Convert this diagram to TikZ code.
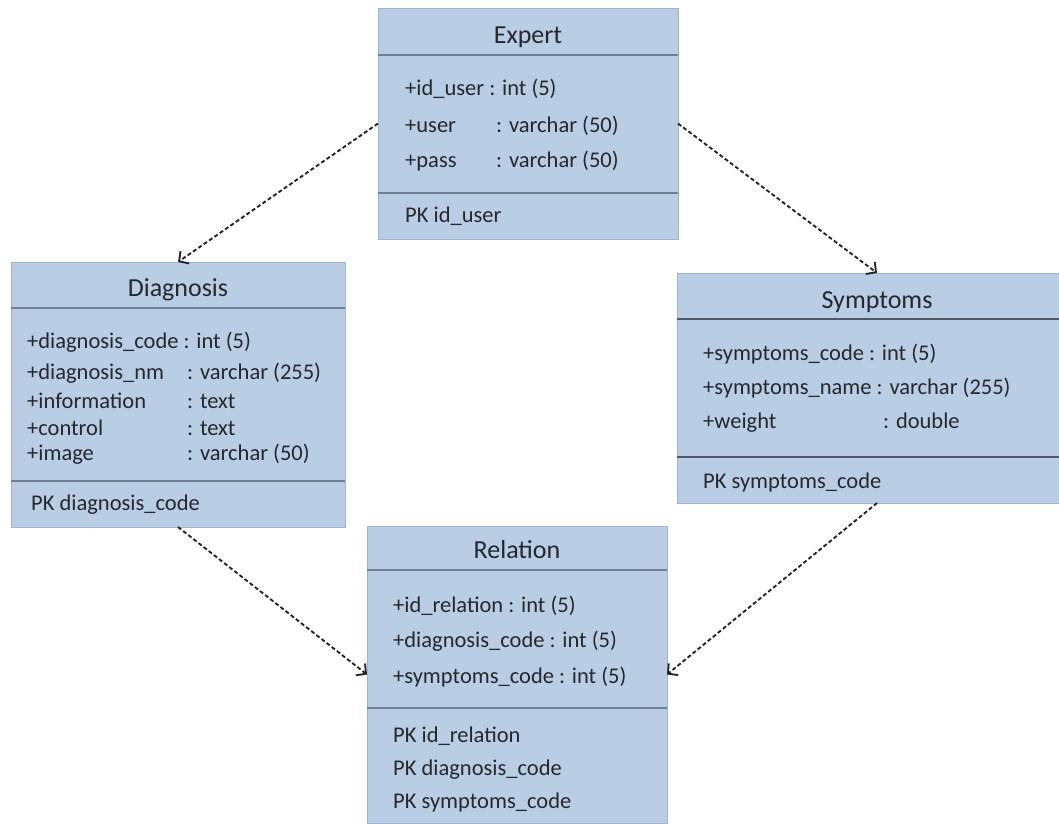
\documentclass[tikz,border=0pt]{standalone}
\usepackage{fontspec}
\setmainfont{Carlito}
\usetikzlibrary{arrows.meta}

\definecolor{classfill}{HTML}{B9CDE5}
\definecolor{classedge}{HTML}{9FB4CE}
\definecolor{sepline}{HTML}{72818F}
\definecolor{sepdark}{HTML}{4E5964}
\definecolor{txt}{HTML}{25282D}

\begin{document}
\begin{tikzpicture}[x=1pt,y=-1pt,>={Straight Barb[length=7pt,width=15pt]},
    classbox/.style={draw=classedge,line width=0.8pt,fill=classfill,inner sep=0pt,outer sep=0pt},
    title/.style={anchor=base,inner sep=0pt,text=txt,font=\fontsize{26}{30}\selectfont},
    attr/.style={anchor=base west,inner sep=0pt,text=txt,font=\fontsize{22.5}{27}\selectfont},
    divider/.style={draw=sepline,line width=1.3pt},
    divdark/.style={draw=sepdark,line width=1.8pt},
    rel/.style={->,draw=black!85,line width=1.9pt,dash pattern=on 4pt off 2.5pt}]

      \useasboundingbox (0,0) rectangle (1059,823);
      \clip (0,0) rectangle (1059,823);

      % class boxes
      \node[classbox,minimum width=300pt,minimum height=231pt] (expert)    at (528,123.5) {};
      \node[classbox,minimum width=334pt,minimum height=265pt] (diagnosis) at (178,394.5) {};
      \node[classbox,minimum width=400pt,minimum height=230pt] (symptoms)  at (877,388)   {};
      \node[classbox,minimum width=300pt,minimum height=297pt] (relation)  at (517,674.5) {};

      % compartment lines
      \draw[divider] (expert.west |- 0,55)     -- (expert.east |- 0,55);
      \draw[divider] (expert.west |- 0,193)    -- (expert.east |- 0,193);
      \draw[divider] (diagnosis.west |- 0,308) -- (diagnosis.east |- 0,308);
      \draw[divider] (diagnosis.west |- 0,481) -- (diagnosis.east |- 0,481);
      \draw[divdark] (symptoms.west |- 0,319)  -- (symptoms.east |- 0,319);
      \draw[divdark] (symptoms.west |- 0,457)  -- (symptoms.east |- 0,457);
      \draw[divider] (relation.west |- 0,570)  -- (relation.east |- 0,570);
      \draw[divider] (relation.west |- 0,708)  -- (relation.east |- 0,708);

      % Expert
      \node[title] (expert-t)  at (528,43)  {Expert};
      \node[attr]  (expert-a1) at (405,95)  {+id\_user : int (5)};
      \node[attr]  (expert-a2) at (405,132) {+user};
      \node[attr]  (expert-t2) at (496,132) {: varchar (50)};
      \node[attr]  (expert-a3) at (405,167) {+pass};
      \node[attr]  (expert-t3) at (496,167) {: varchar (50)};
      \node[attr]  (expert-pk) at (405,222) {PK id\_user};

      % Diagnosis
      \node[title] (diag-t)  at (178,296) {Diagnosis};
      \node[attr]  (diag-a1) at (27,348)  {+diagnosis\_code : int (5)};
      \node[attr]  (diag-a2) at (27,379)  {+diagnosis\_nm};
      \node[attr]  (diag-t2) at (187,379) {: varchar (255)};
      \node[attr]  (diag-a3) at (27,408)  {+information};
      \node[attr]  (diag-t3) at (187,408) {: text};
      \node[attr]  (diag-a4) at (27,435)  {+control};
      \node[attr]  (diag-t4) at (187,435) {: text};
      \node[attr]  (diag-a5) at (27,460)  {+image};
      \node[attr]  (diag-t5) at (187,460) {: varchar (50)};
      \node[attr]  (diag-pk) at (31,510)  {PK diagnosis\_code};

      % Symptoms
      \node[title] (symp-t)  at (877,308) {Symptoms};
      \node[attr]  (symp-a1) at (703,360) {+symptoms\_code : int (5)};
      \node[attr]  (symp-a2) at (703,394) {+symptoms\_name : varchar (255)};
      \node[attr]  (symp-a3) at (703,428) {+weight};
      \node[attr]  (symp-t3) at (883,428) {: double};
      \node[attr]  (symp-pk) at (703,488) {PK symptoms\_code};

      % Relation
      \node[title] (rel-t)   at (517,558) {Relation};
      \node[attr]  (rel-a1)  at (393,612) {+id\_relation : int (5)};
      \node[attr]  (rel-a2)  at (393,647) {+diagnosis\_code : int (5)};
      \node[attr]  (rel-a3)  at (393,683) {+symptoms\_code : int (5)};
      \node[attr]  (rel-pk1) at (393,742) {PK id\_relation};
      \node[attr]  (rel-pk2) at (393,775) {PK diagnosis\_code};
      \node[attr]  (rel-pk3) at (393,808) {PK symptoms\_code};

      % dependencies
      \path (expert.west)     edge[rel] (diagnosis.north)
            (expert.east)     edge[rel] (symptoms.north)
            (diagnosis.south) edge[rel] (relation.west)
            (symptoms.south)  edge[rel] (relation.east);
\end{tikzpicture}
\end{document}
